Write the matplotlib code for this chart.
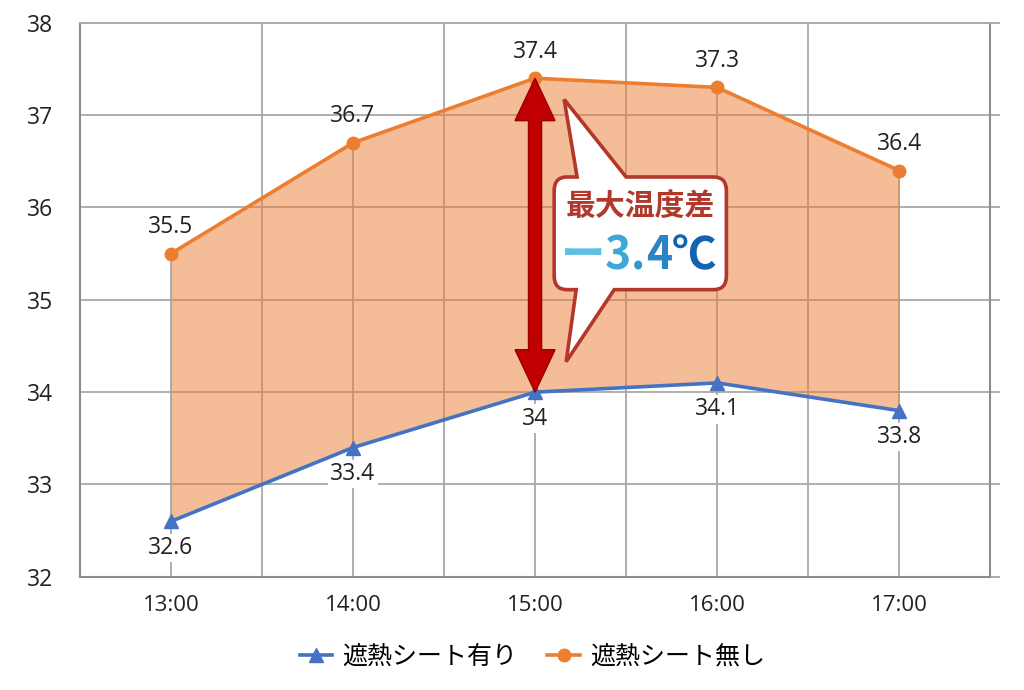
import numpy as np
import matplotlib.pyplot as plt
from matplotlib.path import Path
from matplotlib.patches import PathPatch, Polygon

plt.rcParams['font.family'] = ['Open Sans', 'Noto Sans CJK JP', 'DejaVu Sans']

# データ
times = ['13:00', '14:00', '15:00', '16:00', '17:00']
with_sheet = [32.6, 33.4, 34.0, 34.1, 33.8]
without_sheet = [35.5, 36.7, 37.4, 37.3, 36.4]
series_names = ['遮熱シート有り', '遮熱シート無し']
y_ticks = [32, 33, 34, 35, 36, 37, 38]
callout_title = '最大温度差'

blue = '#4472C4'
orange = '#ED7D31'
grid_c = '#a8a8a8'
dark_red = '#C00000'
cjk = ['Noto Sans CJK JP', 'DejaVu Sans']

fig = plt.figure(figsize=(10.24, 6.9), dpi=100)
ax = fig.add_axes([0.078, 0.164, 0.889, 0.803])

x = np.arange(len(times))
ax.set_xlim(-0.5, len(times) - 0.5)
ax.set_ylim(y_ticks[0], y_ticks[-1])

# グリッド
ax.set_xticks(x)
ax.set_xticklabels(times, fontsize=16)
ax.set_xticks(x[:-1] + 0.5, minor=True)
ax.set_yticks(y_ticks)
ax.set_yticklabels([str(v) for v in y_ticks], fontsize=16.5)
ax.grid(which='minor', axis='x', color=grid_c, lw=1.3)
ax.grid(which='major', axis='y', color=grid_c, lw=1.3)
ax.set_axisbelow(True)
ax.tick_params(axis='x', which='both', length=0, pad=13, colors='#222222')
ax.tick_params(axis='y', which='major', left=False, right=True, labelright=False,
               direction='out', length=7, width=1.3, color=grid_c, pad=12,
               labelcolor='#222222')
for side in ['left', 'bottom', 'right']:
    ax.spines[side].set_color('#8c8c8c')
    ax.spines[side].set_linewidth(1.5)
ax.spines['top'].set_color(grid_c)
ax.spines['top'].set_linewidth(1.3)

# 降下線と塗りつぶし
ax.vlines(x, y_ticks[0], without_sheet, color=grid_c, lw=1.3, zorder=1.5)
ax.fill_between(x, with_sheet, without_sheet, color=orange, alpha=0.5, lw=0, zorder=2)

ax.plot(x, with_sheet, color=blue, lw=2.6, marker='^', ms=10, zorder=4, label=series_names[0])
ax.plot(x, without_sheet, color=orange, lw=2.6, marker='o', ms=9, zorder=4, label=series_names[1])

for xi, v in zip(x, without_sheet):
    ax.annotate(f'{v:g}', (xi, v), xytext=(0, 19), textcoords='offset points',
                ha='center', va='center', fontsize=16.5, color='#222222', zorder=6)
for xi, v in zip(x, with_sheet):
    ax.annotate(f'{v:g}', (xi, v), xytext=(0, -19), textcoords='offset points',
                ha='center', va='center', fontsize=16.5, color='#222222', zorder=6,
                bbox=dict(boxstyle='square,pad=0.1', fc='white', ec='none'))

# 両矢印（最大差）
diff = np.array(without_sheet) - np.array(with_sheet)
i = int(np.argmax(diff))
top, bot = without_sheet[i], with_sheet[i]
sw, hw, hl = 0.036, 0.11, 0.46
arrow = Polygon([(i, top), (i + hw, top - hl), (i + sw, top - hl), (i + sw, bot + hl),
                 (i + hw, bot + hl), (i, bot), (i - hw, bot + hl), (i - sw, bot + hl),
                 (i - sw, top - hl), (i - hw, top - hl)],
                closed=True, fc=dark_red, ec='#9a0000', lw=1, zorder=7)
ax.add_patch(arrow)

# 吹き出し
bx0, bx1, by0, by1 = i + 0.105, i + 1.051, 35.11, 36.33
rx, ry = 0.07, 0.15
verts = [(bx0 + rx, by1), (i + 0.231, by1), (i + 0.16, 37.17), (i + 0.50, by1),
         (bx1 - rx, by1), (bx1, by1), (bx1, by1 - ry), (bx1, by0 + ry),
         (bx1, by0), (bx1 - rx, by0), (i + 0.435, by0), (i + 0.171, 34.33),
         (i + 0.226, by0), (bx0 + rx, by0), (bx0, by0), (bx0, by0 + ry),
         (bx0, by1 - ry), (bx0, by1), (bx0 + rx, by1), (bx0 + rx, by1)]
codes = [Path.MOVETO, Path.LINETO, Path.LINETO, Path.LINETO,
         Path.LINETO, Path.CURVE3, Path.CURVE3, Path.LINETO,
         Path.CURVE3, Path.CURVE3, Path.LINETO, Path.LINETO,
         Path.LINETO, Path.LINETO, Path.CURVE3, Path.CURVE3,
         Path.LINETO, Path.CURVE3, Path.CURVE3, Path.CLOSEPOLY]
ax.add_patch(PathPatch(Path(verts, codes), fc='white', ec='#B5362A', lw=2.6, zorder=8))

ax.text(i + 0.578, 36.02, callout_title, ha='center', va='center', fontsize=21.5,
        fontweight='bold', color='#B0392C', zorder=9, family=cjk)

pieces = ['ー', '3', '.', '4', '℃']
piece_colors = ['#5BC0E2', '#3FA8D8', '#3396CF', '#2A84C6', '#1462B2']
t = ax.text(i + 0.14, 35.47, pieces[0], ha='left', va='center', fontsize=32,
            fontweight='bold', color=piece_colors[0], zorder=9, family=cjk)
for p, c in zip(pieces[1:], piece_colors[1:]):
    t = ax.annotate(p, xy=(1, 0.5), xycoords=t, ha='left', va='center', fontsize=32,
                    fontweight='bold', color=c, zorder=9, family=cjk)

fig.legend(loc='center', bbox_to_anchor=(0.52, 0.048), ncol=2, frameon=False,
           handlelength=1.3, columnspacing=1.2, handletextpad=0.4,
           prop={'family': cjk, 'size': 18})

fig.savefig('out.png', dpi=100, facecolor='white')
